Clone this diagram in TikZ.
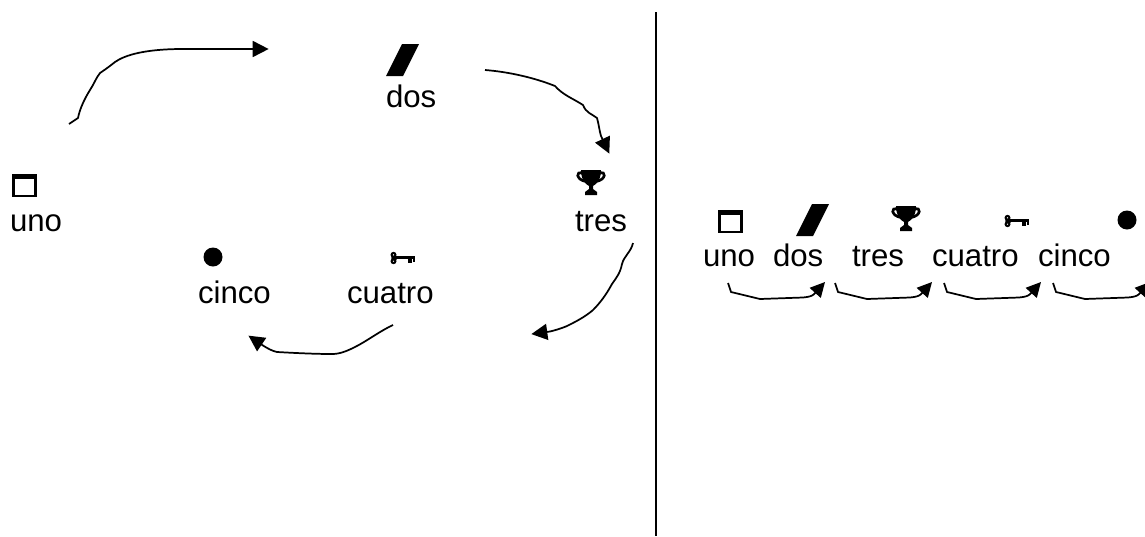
\documentclass[tikz,border=0pt]{standalone}
\usepackage{fontspec}
\setmainfont{Liberation Sans}
\usetikzlibrary{arrows.meta}
\tikzset{
  every picture/.style={x=0.75pt,y=-0.75pt},
  lbl/.style={anchor=base west,inner sep=0pt,outer sep=0pt,font=\fontsize{23.4pt}{26pt}\selectfont,text=black},
  conn/.style={line width=1.3pt,line join=round,-{Triangle[length=12pt,width=12pt]},shorten >=-0.5pt},
  smallconn/.style={line width=1.3pt,line join=round,-{Triangle[length=11pt,width=11pt]}},
  divider/.style={line width=1.2pt},
  windowicon/.pic={
    \draw[line width=2pt] (1.5,2) rectangle (23.5,22);
    \fill (0,0) rectangle (25,5);
  },
  slanticon/.pic={\fill (16,0) -- (33,0) -- (17,32) -- (0,32) -- cycle;},
  dotbig/.pic={\fill (0,0) circle (9.5);},
  trophyicon/.pic={
    \draw[line width=2pt] (-8,3.5) .. controls (-16,0) and (-15,10) .. (-5,11.5);
    \draw[line width=2pt] (8,3.5) .. controls (16,0) and (15,10) .. (5,11.5);
    \fill (-10,0) -- (10,0) .. controls (10,9) and (6,14) .. (2,16) -- (2,19)
      -- (6,22) -- (6,25) -- (-6,25) -- (-6,22) -- (-2,19) -- (-2,16)
      .. controls (-6,14) and (-10,9) .. (-10,0) -- cycle;
  },
  keyicon/.pic={
    \fill (3.5,-3.2) circle (3) (4.2,0) circle (3) (3.5,3.2) circle (3);
    \fill[white] (3.5,-3.2) circle (0.7) (3.5,3.2) circle (0.7);
    \fill (6,-1.8) rectangle (25,1.4);
    \fill (18,1.4) rectangle (21.5,5);
    \fill (22.5,1.4) rectangle (25,4);
  }
}
\begin{document}
\begin{tikzpicture}
\useasboundingbox (0,0) rectangle (1145,536);
% divider
\coordinate (divtop) at (656,12);
\coordinate (divbot) at (656,536);
\draw[divider] (divtop) -- (divbot);
% left labels
\node[lbl] (uno) at (10,231) {uno};
\node[lbl] (dos) at (386,107) {dos};
\node[lbl] (tres) at (575,231) {tres};
\node[lbl] (cuatro) at (347,303) {cuatro};
\node[lbl] (cinco) at (198,303) {cinco};
% right labels
\node[lbl] (unob) at (703,266) {uno};
\node[lbl] (dosb) at (773,266) {dos};
\node[lbl] (tresb) at (852,266) {tres};
\node[lbl] (cuatrob) at (932,266) {cuatro};
\node[lbl] (cincob) at (1038,266) {cinco};
% icons
\pic at (12,174) {windowicon};
\pic at (386,44) {slanticon};
\pic at (591,170) {trophyicon};
\pic at (390,258) {keyicon};
\pic at (213,257) {dotbig};
\pic at (718,210) {windowicon};
\pic at (796,204) {slanticon};
\pic at (906,206) {trophyicon};
\pic at (1004,221) {keyicon};
\pic at (1127,220) {dotbig};
% large connectors
\coordinate (a1s) at (69,124);
\coordinate (a1e) at (268,49);
\draw[conn] (a1s) -- (78,118) .. controls (80,108) and (85,98) .. (90,90)
  .. controls (94,84) and (96,78) .. (100,73) .. controls (106,69) and (110,66) .. (115,62)
  .. controls (125,55) and (145,49) .. (183,49) -- (a1e);
\coordinate (a2s) at (485,70);
\coordinate (a2e) at (609,153);
\draw[conn] (a2s) .. controls (510,72) and (535,78) .. (555,86)
  .. controls (563,95) and (572,98) .. (583,105)
  .. controls (586,113) and (592,114) .. (597,118)
  .. controls (599,125) and (599,129) .. (601,136) -- (a2e);
\coordinate (a3s) at (633,243);
\coordinate (a3e) at (532,334);
\draw[conn] (a3s) .. controls (631,252) and (624,256) .. (622,264)
  .. controls (620,274) and (616,278) .. (612,284)
  .. controls (606,295) and (600,303) .. (593,310)
  .. controls (585,317) and (575,322) .. (567,326)
  .. controls (560,329) and (554,330.5) .. (550,331.5) -- (a3e);
\coordinate (a4s) at (393,325);
\coordinate (a4e) at (249,336);
\draw[conn] (a4s) .. controls (380,331) and (367,341) .. (355,347)
  .. controls (347,351) and (340,354) .. (332,354)
  .. controls (315,354) and (295,353) .. (277,352)
  .. controls (272,351) and (267,348) .. (263,345.5) -- (a4e);
% small connectors
\coordinate (b1s) at (728,283);
\coordinate (b1e) at (825,282);
\draw[smallconn] (b1s) -- (731,292) -- (760,299) -- (803,297.5) .. controls (809,297) and (812,296) .. (814,294.2) -- (b1e);
\coordinate (b2s) at (835,283);
\coordinate (b2e) at (932,282);
\draw[smallconn] (b2s) -- (838,292) -- (867,299) -- (910,297.5) .. controls (916,297) and (919,296) .. (921,294.2) -- (b2e);
\coordinate (b3s) at (944,283);
\coordinate (b3e) at (1041,282);
\draw[smallconn] (b3s) -- (947,292) -- (976,299) -- (1019,297.5) .. controls (1025,297) and (1028,296) .. (1030,294.2) -- (b3e);
\coordinate (b4s) at (1053,283);
\coordinate (b4e) at (1150,282);
\draw[smallconn] (b4s) -- (1056,292) -- (1085,299) -- (1128,297.5) .. controls (1134,297) and (1137,296) .. (1139,294.2) -- (b4e);
\end{tikzpicture}
\end{document}
